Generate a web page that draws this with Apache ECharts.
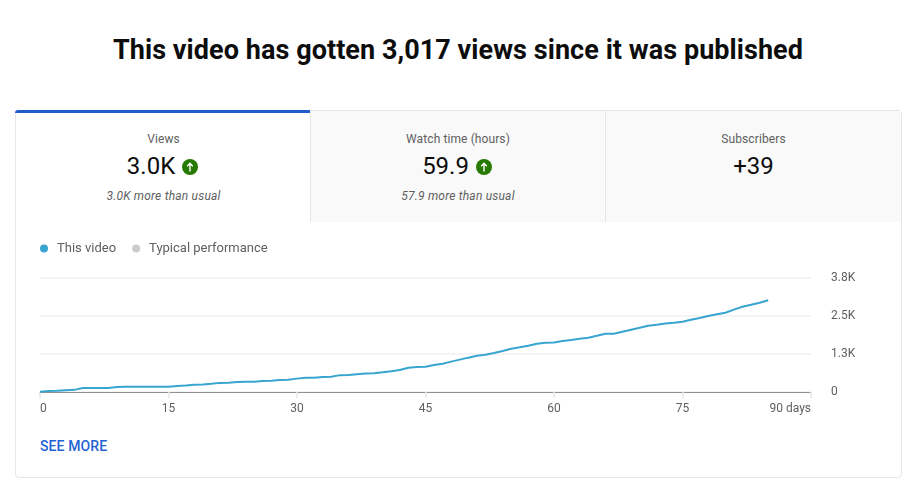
<!DOCTYPE html>
<html>
<head>
<meta charset="utf-8">
<script src="https://cdn.jsdelivr.net/npm/echarts@6/dist/echarts.min.js"></script>
<style>
html, body { margin: 0; padding: 0; background: #fff; }
body { width: 907px; height: 492px; position: relative; overflow: hidden; font-family: Roboto, sans-serif; color: #0d0d0d; }
h1 { position: absolute; left: 0; top: 33px; width: 916px; margin: 0; text-align: center; font-size: 27px; line-height: 34px; font-weight: 700; letter-spacing: .06px; color: #0d0d0d; }
#card { position: absolute; left: 15px; top: 110px; width: 885px; height: 366px; border: 1px solid #e6e6e6; border-radius: 4px; box-sizing: content-box; }
.tab { position: absolute; top: 0; height: 111px; width: 295px; background: #f9f9f9; text-align: center; box-sizing: border-box; }
.tab.active { background: #fff; }
.tab.active:before { content: ""; position: absolute; left: -1px; right: 1px; top: -1px; height: 3px; background: #1f5dc9; border-radius: 3px 0 0 0; }
.tab + .tab { border-left: 1px solid #e6e6e6; }
.name { position: absolute; left: 0; right: 0; top: 21px; font-size: 12px; line-height: 14px; letter-spacing: .1px; color: #606060; }
.big { position: absolute; left: 0; right: 0; top: 40px; font-size: 24px; line-height: 30px; color: #0d0d0d; }
.big svg { vertical-align: -1px; margin-left: 1px; margin-right: 2px; }
.note { position: absolute; left: 0; right: 0; top: 78px; font-size: 12px; line-height: 14px; font-style: italic; letter-spacing: .2px; color: #606060; }
#chart { position: absolute; left: 16px; top: 223px; width: 884px; height: 200px; }
#more { position: absolute; left: 40px; top: 438px; font-size: 14px; line-height: 16px; font-weight: 500; letter-spacing: .1px; color: #1f63d3; }
</style>
</head>
<body>
<h1>This video has gotten 3,017 views since it was published</h1>
<div id="card">
	<div class="tab active" style="left:0">
		<div class="name">Views</div>
		<div class="big">3.0K <svg width="16" height="16" viewBox="0 0 16 16"><circle cx="8" cy="8" r="8" fill="#267a00"/><path d="M8 12.5V4.5M5.2 7.2L8 4.2l2.8 3" stroke="#fff" stroke-width="1.4" fill="none"/></svg></div>
		<div class="note">3.0K more than usual</div>
	</div>
	<div class="tab" style="left:294px">
		<div class="name">Watch time (hours)</div>
		<div class="big">59.9 <svg width="16" height="16" viewBox="0 0 16 16"><circle cx="8" cy="8" r="8" fill="#267a00"/><path d="M8 12.5V4.5M5.2 7.2L8 4.2l2.8 3" stroke="#fff" stroke-width="1.4" fill="none"/></svg></div>
		<div class="note">57.9 more than usual</div>
	</div>
	<div class="tab" style="left:589px;width:296px">
		<div class="name">Subscribers</div>
		<div class="big">+39</div>
	</div>
</div>
<div id="chart"></div>
<div id="more">SEE MORE</div>
<script>
var xTicks = [0, 15, 30, 45, 60, 75, 90];
var yTickLabels = {0: '0', 1250: '1.3K', 2500: '2.5K', 3750: '3.8K'};
// views per day since publishing
var thisVideo = [
	10, 30, 40, 60, 70, 130, 130, 130, 135, 165,
	170, 170, 170, 170, 170, 175, 200, 210, 240, 245,
	270, 300, 305, 330, 335, 335, 365, 370, 395, 400,
	440, 465, 470, 495, 503, 555, 560, 585, 610, 620,
	648, 680, 724, 800, 825, 832, 890, 930, 1000, 1065,
	1130, 1190, 1228, 1285, 1350, 1425, 1470, 1523, 1585, 1622,
	1630, 1680, 1710, 1750, 1786, 1850, 1918, 1918, 1985, 2050,
	2115, 2181, 2215, 2250, 2280, 2313, 2375, 2435, 2500, 2555,
	2609, 2710, 2806, 2870, 2938, 3017
];
var typical = [];

var chart = echarts.init(document.getElementById('chart'));
var seriesData = [];
for (var i = 0; i < thisVideo.length; i++) {
	seriesData.push([i, thisVideo[i]]);
}

var option = {
	animation: false,
	textStyle: { fontFamily: 'Roboto' },
	legend: {
		left: 19,
		top: 14,
		itemWidth: 8,
		itemHeight: 8,
		itemGap: 16,
		icon: 'circle',
		textStyle: { color: '#606060', fontSize: 13, fontFamily: 'Roboto', padding: [0, 0, 0, 4] },
		data: ['This video', 'Typical performance']
	},
	grid: { left: 24, right: 89, top: 55, bottom: 31 },
	xAxis: {
		type: 'value',
		min: 0,
		max: 90,
		interval: 15,
		axisLine: { show: true, onZero: false, lineStyle: { color: '#909090', width: 1 } },
		axisTick: { show: true, length: 6, lineStyle: { color: '#e6e6e6', width: 1.5 } },
		splitLine: { show: false },
		axisLabel: {
			color: '#606060',
			fontSize: 12,
			margin: 11,
			alignMinLabel: 'left',
			alignMaxLabel: 'right',
			formatter: function (v) { return v === xTicks[xTicks.length - 1] ? v + ' days' : String(v); }
		}
	},
	yAxis: {
		type: 'value',
		position: 'right',
		min: 0,
		max: 3750,
		interval: 1250,
		axisLine: { show: false },
		axisTick: { show: false },
		splitLine: { show: true, lineStyle: { color: '#f0f0f0', width: 1.5 } },
		axisLabel: {
			color: '#606060',
			fontSize: 12,
			margin: 20,
			padding: [4, 0, 0, 0],
			formatter: function (v) { return yTickLabels[v]; }
		}
	},
	series: [
		{
			name: 'This video',
			type: 'line',
			data: seriesData,
			showSymbol: false,
			smooth: false,
			itemStyle: { color: '#38a5d0' },
			lineStyle: { color: '#38a5d0', width: 2 }
		},
		{
			name: 'Typical performance',
			type: 'line',
			data: typical,
			showSymbol: false,
			itemStyle: { color: '#cccccc' },
			lineStyle: { color: '#cccccc', width: 2 }
		}
	]
};
chart.setOption(option);
</script>
</body>
</html>
